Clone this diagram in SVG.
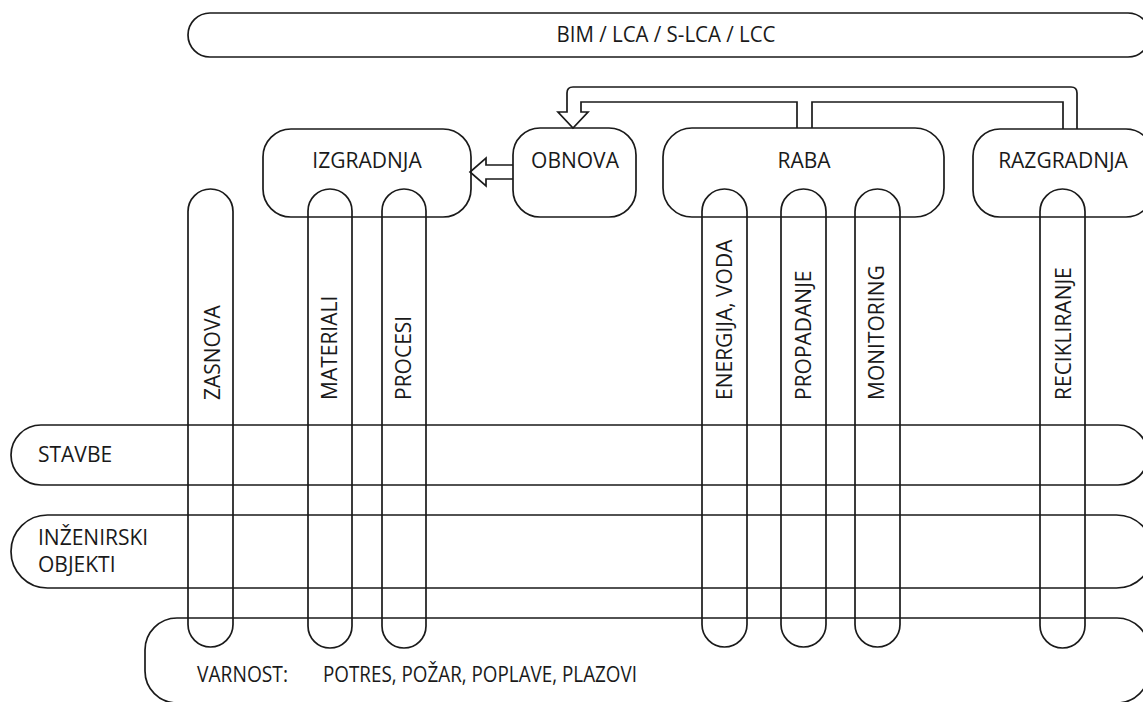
<svg xmlns="http://www.w3.org/2000/svg" width="1143" height="702" viewBox="0 0 1143 702">
<style>
.s{fill:none;stroke:#1a1a1a;stroke-width:1.7}
.t{font-family:"Open Sans","Noto Sans",sans-serif;font-size:21px;fill:#1a1a1a}
.m{text-anchor:middle}
</style>
<rect width="1143" height="702" fill="#fff"/>
<g id="bim">
<rect class="s" x="188" y="13" width="962" height="44" rx="22"/>
<text class="t m" x="666" y="42" textLength="219" lengthAdjust="spacingAndGlyphs">BIM / LCA / S-LCA / LCC</text>
</g>
<g id="izgradnja">
<rect class="s" x="263" y="129" width="208" height="88" rx="28"/>
<text class="t m" x="367" y="168">IZGRADNJA</text>
</g>
<g id="obnova">
<rect class="s" x="513" y="128" width="123" height="89" rx="27"/>
<text class="t m" x="575" y="168">OBNOVA</text>
</g>
<g id="raba">
<rect class="s" x="663" y="128" width="281" height="89" rx="29"/>
<text class="t m" x="804" y="168">RABA</text>
</g>
<g id="razgradnja">
<rect class="s" x="973" y="129" width="180" height="88" rx="27"/>
<text class="t m" x="1063" y="168">RAZGRADNJA</text>
</g>
<g id="stavbe">
<rect class="s" x="11" y="425" width="1137" height="60" rx="30"/>
<text class="t" x="38" y="462">STAVBE</text>
</g>
<g id="inzenirski">
<rect class="s" x="11" y="515" width="1142" height="73" rx="36.5"/>
<text class="t" x="38" y="545">INŽENIRSKI</text>
<text class="t" x="38" y="572">OBJEKTI</text>
</g>
<g id="varnost">
<rect class="s" x="145" y="618" width="1004" height="85" rx="32"/>
<text class="t" x="197" y="682" textLength="91" lengthAdjust="spacingAndGlyphs">VARNOST:</text>
<text class="t" x="323" y="682" textLength="314" lengthAdjust="spacingAndGlyphs">POTRES, POŽAR, POPLAVE, PLAZOVI</text>
</g>
<g id="zasnova">
<rect class="s" x="188" y="189" width="45" height="458" rx="22.5"/>
<text class="t" transform="translate(220,400) rotate(-90)">ZASNOVA</text>
</g>
<g id="materiali">
<rect class="s" x="308" y="189" width="44" height="459" rx="22"/>
<text class="t" transform="translate(337,400) rotate(-90)">MATERIALI</text>
</g>
<g id="procesi">
<rect class="s" x="382" y="189" width="44" height="459" rx="22"/>
<text class="t" transform="translate(411,400) rotate(-90)">PROCESI</text>
</g>
<g id="energija">
<rect class="s" x="702" y="189" width="45" height="458" rx="22.5"/>
<text class="t" transform="translate(732,400) rotate(-90)">ENERGIJA, VODA</text>
</g>
<g id="propadanje">
<rect class="s" x="781" y="189" width="45" height="458" rx="22.5"/>
<text class="t" transform="translate(811,400) rotate(-90)">PROPADANJE</text>
</g>
<g id="monitoring">
<rect class="s" x="855" y="189" width="45" height="458" rx="22.5"/>
<text class="t" transform="translate(884,400) rotate(-90)">MONITORING</text>
</g>
<g id="recikliranje">
<rect class="s" x="1040" y="189" width="45" height="459" rx="22.5"/>
<text class="t" transform="translate(1071,400) rotate(-90)">RECIKLIRANJE</text>
</g>
<g id="connectors">
<path class="s" d="M1077,129 V93 Q1077,87 1071,87 H573 Q567,87 567,93 V112 H558 L573,128 L588,112 H581 V102 H797 V128"/>
<path class="s" d="M812,128 V102 H1063 V129"/>
<path class="s" d="M513,165 H486 V158 L470,172 L486,186 V179 H513"/>
</g>
</svg>
